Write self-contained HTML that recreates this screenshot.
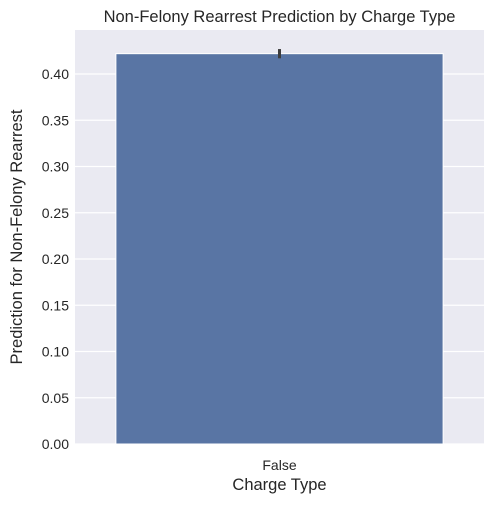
<!DOCTYPE html>
<html><head><meta charset="utf-8"><style>
body{margin:0;background:#fff;font-family:"Liberation Sans",sans-serif}
</style></head><body>
<svg id="chart" width="503" height="503" xmlns="http://www.w3.org/2000/svg"></svg>
<script>
const categories = ["False"];
const values = [0.422];
const errLow = [0.417];
const errHigh = [0.427];
const yTicks = [0,0.05,0.10,0.15,0.20,0.25,0.30,0.35,0.40];
const tickLabels = ["0.00","0.05","0.10","0.15","0.20","0.25","0.30","0.35","0.40"];

const svg = document.getElementById('chart');
const NS = 'http://www.w3.org/2000/svg';
const L=75,R=484,T=30,B=444,yMax=0.4476;
const y = v => B - v/yMax*(B-T);
const band = (R-L)/categories.length;
const xc = i => L + band*(i+0.5);
function el(tag, attrs, text){const e=document.createElementNS(NS,tag);for(const k in attrs)e.setAttribute(k,attrs[k]);if(text!==undefined)e.textContent=text;svg.appendChild(e);return e;}

const bg = el('rect',{x:L,y:T,width:R-L,height:B-T,fill:'#eaeaf2'});



yTicks.forEach((t,i)=>{
  const g = el('line',{x1:L,x2:R,y1:y(t),y2:y(t),stroke:'#fff','stroke-width':1.2});
  
  
  const lb = el('text',{x:L-6,y:y(t)+5,'text-anchor':'end','font-size':14,fill:'#262626'},tickLabels[i]);
  
  
});

categories.forEach((c,i)=>{
  const w = band*0.8;
  const b = el('rect',{x:xc(i)-w/2,y:y(values[i]),width:w,height:B-y(values[i]),fill:'#5975a4',stroke:'#fff','stroke-width':1});
  
  
  const e = el('line',{x1:xc(i),x2:xc(i),y1:y(errHigh[i]),y2:y(errLow[i]),stroke:'#3d3d3d','stroke-width':3});
  
  
  const lb = el('text',{x:xc(i),y:B+26,'text-anchor':'middle','font-size':14,fill:'#262626'},c);
  
  
});

const title = el('text',{x:(L+R)/2,y:22,'text-anchor':'middle','font-size':16.5,fill:'#262626'},'Non-Felony Rearrest Prediction by Charge Type');


const xt = el('text',{x:(L+R)/2,y:490,'text-anchor':'middle','font-size':16.5,fill:'#262626'},'Charge Type');


const yt = el('text',{x:0,y:0,'text-anchor':'middle','font-size':16.5,fill:'#262626',transform:`translate(22,${(T+B)/2}) rotate(-90)`},'Prediction for Non-Felony Rearrest');


</script>
</body></html>
